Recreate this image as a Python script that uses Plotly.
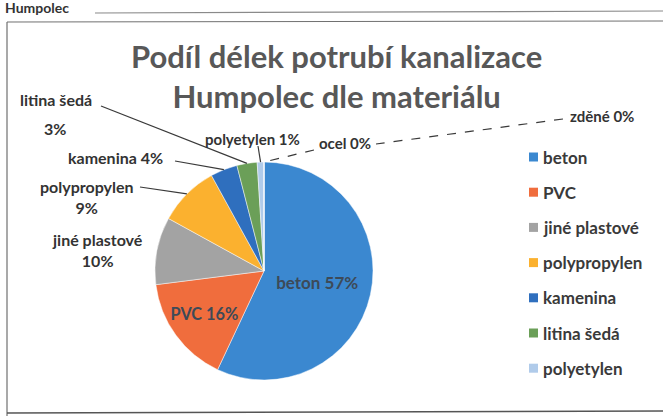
import math
import plotly.graph_objects as go

# Share of sewer pipe length by material (percent)
materials = ["beton", "PVC", "jiné plastové", "polypropylen", "kamenina",
             "litina šedá", "polyetylen", "ocel", "zděné"]
shares = [57, 16, 10, 9, 4, 3, 1, 0, 0]
colors = ["#3b88d0", "#f06d3d", "#a3a3a3", "#fbb12f", "#2f6fbe",
          "#6b9f58", "#b0cbea", "#9e480e", "#636363"]
legend_items = materials[:7]

W, H = 663, 419
CX, CY, R = 264, 271, 109          # pie centre / radius in pixels
total = sum(shares)
pct = [round(v / total * 100) for v in shares]


def px(x):
    return x / W


def py(y):
    return 1 - y / H


def rim(i):
    """Point on the pie edge at the middle of slice i (clockwise from 12 o'clock)."""
    start = sum(shares[:i]) / total
    mid = start + shares[i] / total / 2
    a = 2 * math.pi * mid
    return CX + R * math.sin(a), CY - R * math.cos(a)


inside = {"beton", "PVC"}
fig = go.Figure(go.Pie(
    labels=materials,
    values=shares,
    sort=False,
    direction="clockwise",
    rotation=0,
    marker=dict(colors=colors, line=dict(color="rgba(255,255,255,0.6)", width=0.8)),
    text=[f"{m} {p}%" for m, p in zip(materials, pct)],
    textinfo="text",
    textposition=["inside" if m in inside else "none" for m in materials],
    insidetextorientation="horizontal",
    insidetextfont=dict(family="Lato", size=17, color="#3d4a58", weight="bold"),
    showlegend=False,
    hoverinfo="label+percent",
    domain=dict(x=[px(CX - R), px(CX + R)], y=[py(CY + R), py(CY - R)]),
))

shapes = []
annotations = []
label_font = dict(family="Lato", size=16, color="#333333", weight="bold")


def label(text, x, y, size=16):
    annotations.append(dict(text=text, x=px(x), y=py(y), xref="paper", yref="paper",
                            showarrow=False, align="center", xanchor="center",
                            yanchor="middle", font=dict(label_font, size=size)))


def leader(x0, y0, x1, y1, dash="solid", color="#3a3a3a", width=1.2):
    shapes.append(dict(type="line", xref="paper", yref="paper",
                       x0=px(x0), y0=py(y0), x1=px(x1), y1=py(y1),
                       line=dict(color=color, width=width, dash=dash)))


idx = {m: i for i, m in enumerate(materials)}

# outside data labels with leader lines
i = idx["litina šedá"]
label(materials[i], 56, 100)
label(f"{pct[i]}%", 55, 128)
leader(101, 106, *rim(i))

i = idx["kamenina"]
label(f"{materials[i]} {pct[i]}%", 116, 157)
leader(175, 161, *rim(i))

i = idx["polypropylen"]
label(f"{materials[i]}<br>{pct[i]}%", 87, 197)
leader(140, 187, *rim(i))

i = idx["jiné plastové"]
label(f"{materials[i]}<br>{pct[i]}%", 97, 250)

i = idx["polyetylen"]
label(f"{materials[i]} {pct[i]}%", 253, 139, size=15)
leader(258, 146, *rim(i))

i = idx["ocel"]
label(f"{materials[i]} {pct[i]}%", 345, 143, size=15)
leader(314, 150, *rim(i), dash="dash")

i = idx["zděné"]
label(f"{materials[i]} {pct[i]}%", 602, 116, size=15)
leader(563, 119, 376, 144, dash="dash")

# legend drawn as coloured squares with labels
for k, name in enumerate(legend_items):
    yy = 157 + k * 35.2
    shapes.append(dict(type="rect", xref="paper", yref="paper",
                       x0=px(529), x1=px(538), y0=py(yy + 4.5), y1=py(yy - 4.5),
                       fillcolor=colors[k], line=dict(width=0)))
    annotations.append(dict(text=name, x=px(541), y=py(yy), xref="paper", yref="paper",
                            showarrow=False, xanchor="left", yanchor="middle",
                            font=dict(family="Lato", size=17, color="#3a3a3a",
                                      weight="bold")))

# chart title
annotations.append(dict(text="Podíl délek potrubí kanalizace<br>Humpolec dle materiálu",
                        x=px(336), y=py(76), xref="paper", yref="paper",
                        showarrow=False, xanchor="center", yanchor="middle",
                        font=dict(family="Lato", size=31, color="#585858", weight="bold")))

# sheet heading
annotations.append(dict(text="Humpolec", x=px(3), y=py(8), xref="paper", yref="paper",
                        showarrow=False, xanchor="left", yanchor="middle",
                        font=dict(family="Lato", size=14, color="#333333", weight="bold")))

# chart frame and header rule
frame = "#707070"
leader(95, 13, 663, 11, color="#8a8a8a", width=1.2)
leader(7, 22, 663, 21, color=frame, width=1)
leader(7, 22, 7, 416, color=frame, width=1.2)
leader(7, 413, 663, 411, color="#555555", width=1.6)

fig.update_layout(
    width=W, height=H,
    margin=dict(l=0, r=0, t=0, b=0),
    paper_bgcolor="white",
    plot_bgcolor="white",
    shapes=shapes,
    annotations=annotations,
    font=dict(family="Lato"),
)

fig.write_html("out.html")
